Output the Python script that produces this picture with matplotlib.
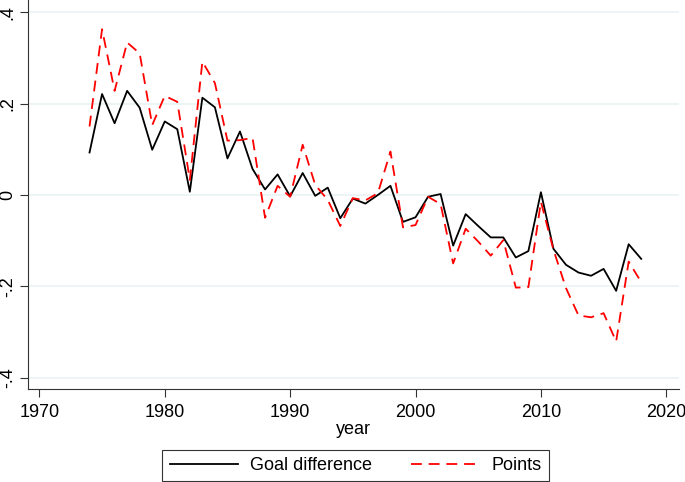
import numpy as np
import matplotlib.pyplot as plt

plt.rcParams['font.family'] = ['Liberation Sans', 'DejaVu Sans']

#%% Data
years = np.arange(1974, 2019)

goal_diff = [0.093, 0.221, 0.157, 0.228, 0.191, 0.099, 0.161, 0.144, 0.007,
             0.213, 0.192, 0.080, 0.139, 0.057, 0.012, 0.045, -0.003, 0.048,
             -0.002, 0.016, -0.051, -0.008, -0.019, 0.000, 0.020, -0.059,
             -0.049, -0.004, 0.002, -0.111, -0.042, -0.068, -0.093, -0.093,
             -0.137, -0.123, 0.006, -0.118, -0.153, -0.170, -0.177, -0.162,
             -0.210, -0.108, -0.140]

points = [0.150, 0.363, 0.228, 0.334, 0.310, 0.153, 0.217, 0.204, 0.033,
          0.292, 0.245, 0.119, 0.120, 0.125, -0.050, 0.020, -0.004, 0.110,
          0.022, -0.011, -0.068, -0.007, -0.012, 0.004, 0.095, -0.071,
          -0.066, -0.004, -0.020, -0.150, -0.074, -0.102, -0.133, -0.099,
          -0.203, -0.202, -0.015, -0.120, -0.204, -0.264, -0.268, -0.259,
          -0.321, -0.146, -0.191]

xticks = [1970, 1980, 1990, 2000, 2010, 2020]
yticks = [-0.4, -0.2, 0, 0.2, 0.4]
ytick_labels = ['-.4', '-.2', '0', '.2', '.4']

#%% Plot
fig = plt.figure(figsize=(6.85, 4.82), dpi=100)
ax = fig.add_axes([0.041, 0.193, 0.95, 0.807])

ax.plot(years, goal_diff, color='black', lw=1.3, label='Goal difference')
ax.plot(years, points, color='red', lw=1.3, dashes=(6, 3.8), label='Points')

ax.set_xlim(1969.1, 2021.0)
ax.set_ylim(-0.425, 0.427)
ax.set_xticks(xticks)
ax.set_yticks(yticks)
ax.set_yticklabels(ytick_labels, rotation=90, va='center')
ax.tick_params(labelsize=13, length=6, width=0.8, color='#333333')
ax.tick_params(axis='x', pad=4.5)
ax.tick_params(axis='y', pad=2.5)
ax.grid(axis='y', color='#eaf2f3', lw=1.2)
ax.set_axisbelow(True)
for s in ['top', 'right']:
    ax.spines[s].set_visible(False)
for s in ['left', 'bottom']:
    ax.spines[s].set_color('#333333')
    ax.spines[s].set_linewidth(0.8)
ax.set_xlabel('year', fontsize=13, labelpad=0)

leg = fig.legend(loc='center', bbox_to_anchor=(0.519, 0.034), ncol=2,
                 fontsize=13, frameon=True, fancybox=False, handlelength=3.8,
                 handletextpad=0.66, columnspacing=2.15, borderpad=0.4,
                 edgecolor='black')
leg.get_frame().set_linewidth(0.8)

fig.savefig('out.png', dpi=100)
